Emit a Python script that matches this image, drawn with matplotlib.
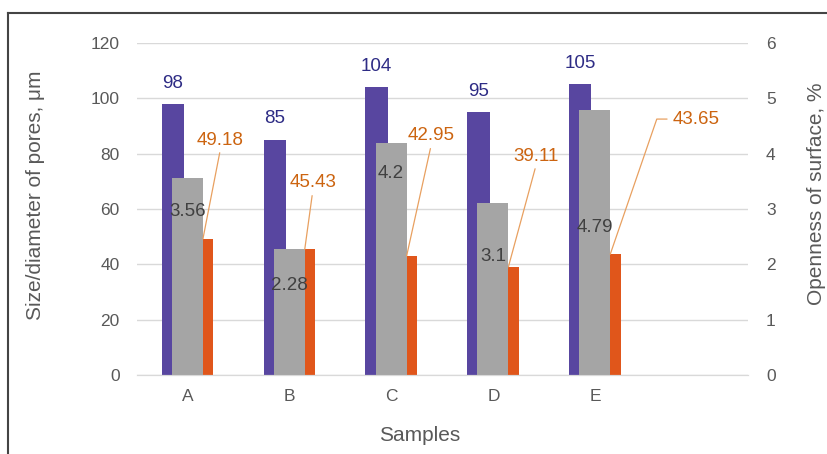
import matplotlib
matplotlib.use("Agg")
import matplotlib.pyplot as plt
from matplotlib.lines import Line2D
import numpy as np

plt.rcParams['font.family'] = ['Liberation Sans', 'DejaVu Sans']

samples = ["A", "B", "C", "D", "E"]
pore_size = [98, 85, 104, 95, 105]          # purple, left axis
openness = [3.56, 2.28, 4.2, 3.1, 4.79]     # gray, right axis
pore_diam = [49.18, 45.43, 42.95, 39.11, 43.65]  # orange, left axis

# label placement (positions only)
gray_lab_y = [2.96, 1.61, 3.65, 2.15, 2.67]
orange_lab_dx = [0.32, 0.225, 0.39, 0.42, 0.99]
orange_lab_y = [84.9, 69.4, 86.4, 79.1, 92.5]

purple = "#5846a0"
gray = "#a5a5a5"
orange = "#e0561b"
purple_txt = "#2e2c85"
gray_txt = "#404040"
orange_txt = "#cc6410"
grid_c = "#d9d9d9"
tick_c = "#595959"

fig = plt.figure(figsize=(8.27, 4.54), dpi=100)
ax = fig.add_axes([0.1657, 0.174, 0.7388, 0.7313])
ax2 = ax.twinx()

x = np.arange(len(samples))
wp, wg, wo = 0.22, 0.304, 0.102
cp, cg, co = -0.148, -0.005, 0.198

ax.bar(x + cp, pore_size, width=wp, color=purple, zorder=2)
ax.bar(x + co, pore_diam, width=wo, color=orange, zorder=2)
ax2.bar(x + cg, openness, width=wg, color=gray, zorder=2)

ax.set_xlim(-0.5, 5.5)
ax.set_ylim(0, 120)
ax2.set_ylim(0, 6)
ax.set_yticks(np.arange(0, 121, 20))
ax2.set_yticks(np.arange(0, 7, 1))
ax.set_xticks(x)
ax.set_xticklabels(samples)

ax.yaxis.grid(True, color=grid_c, lw=1.0, zorder=0)
ax.set_axisbelow(True)
for a in (ax, ax2):
    for s in ("top", "left", "right"):
        a.spines[s].set_visible(False)
    a.spines["bottom"].set_color(grid_c)
    a.tick_params(length=0, labelsize=12.5, colors=tick_c)
ax.tick_params(axis='y', pad=12.5)
ax.tick_params(axis='x', pad=10)
ax2.tick_params(axis='y', pad=13)

ax.set_ylabel("Size/diameter of pores, μm", fontsize=15, color=tick_c)
ax2.set_ylabel("Openness of surface, %", fontsize=15, color=tick_c)
ax.set_xlabel("Samples", fontsize=15, color=tick_c)
ax.yaxis.set_label_coords(-0.151, 0.54)
ax2.yaxis.set_label_coords(1.097, 0.545)
ax.xaxis.set_label_coords(0.463, -0.155)

# purple labels
for i, v in enumerate(pore_size):
    ax2.annotate(str(v), xy=(i + cp, v), xycoords=ax.transData,
                 xytext=(0, 15), textcoords="offset points",
                 ha="center", va="center", fontsize=13.5, color=purple_txt)

# gray labels
for i, v in enumerate(openness):
    ax2.text(i + cg, gray_lab_y[i], f"{v:g}", ha="center", va="center",
             fontsize=13.5, color=gray_txt, zorder=5)

# orange labels with leader lines
for i, v in enumerate(pore_diam):
    xy = (i + co - wo / 2, v)
    xt = (i + orange_lab_dx[i], orange_lab_y[i])
    if i == 4:
        ax2.annotate(f"{v:.2f}", xy=xy, xycoords=ax.transData,
                     xytext=xt, textcoords=ax.transData,
                     ha="center", va="center", fontsize=13.5, color=orange_txt,
                     arrowprops=dict(arrowstyle="-", color="#e8a060", lw=0.9,
                                     shrinkA=2, shrinkB=0, relpos=(0, 0.5),
                                     connectionstyle="angle,angleA=180,angleB=71,rad=0"),
                     zorder=6)
    else:
        ax2.annotate(f"{v:.2f}", xy=xy, xycoords=ax.transData,
                     xytext=xt, textcoords=ax.transData,
                     ha="center", va="center", fontsize=13.5, color=orange_txt,
                     arrowprops=dict(arrowstyle="-", color="#e8a060", lw=0.9,
                                     shrinkA=1, shrinkB=0, relpos=(0.5, 0)),
                     zorder=6)

# outer frame (top and left only)
fig.add_artist(Line2D([7.5 / 827, 1.0], [1 - 12.5 / 454, 1 - 12.5 / 454],
                      transform=fig.transFigure, color="#444444", lw=1.5))
fig.add_artist(Line2D([7.5 / 827, 7.5 / 827], [0.0, 1 - 12.5 / 454],
                      transform=fig.transFigure, color="#444444", lw=1.5))

fig.savefig("out.png", dpi=100)
